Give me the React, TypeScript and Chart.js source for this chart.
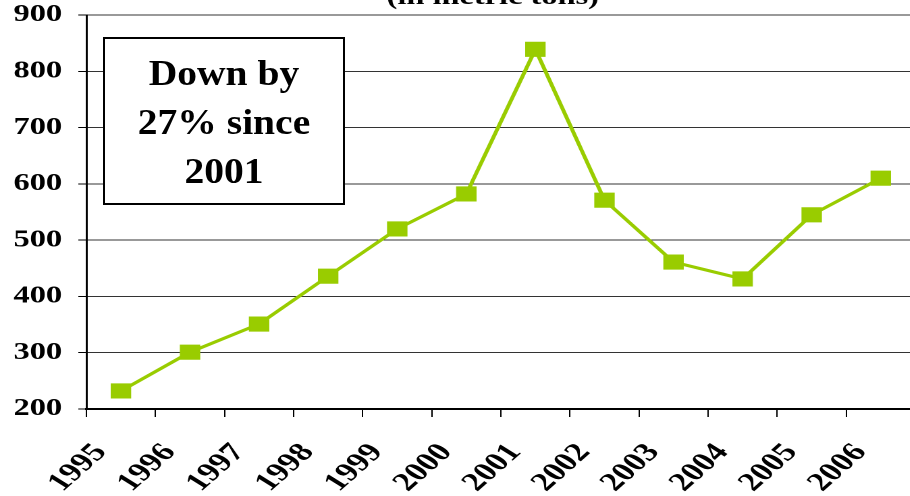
import React, { useEffect, useRef } from 'react';
import { Chart, registerables } from 'chart.js';

Chart.register(...registerables);

const years = ['1995', '1996', '1997', '1998', '1999', '2000', '2001', '2002', '2003', '2004', '2005', '2006'];
const tons = [232, 301, 351, 436, 520, 582, 839, 571, 461, 431, 545, 610];
const yTicks = [200, 300, 400, 500, 600, 700, 800, 900];
const titleText = '(in metric tons)';
const noteLines = ['Down by', '27% since', '2001'];

const SX = 1.35; // horizontal stretch of the reference picture
const INNER_W = 689;
const H = 496;
const FONT = '"Liberation Serif", "Times New Roman", serif';

export default function App() {
  const ref = useRef<HTMLCanvasElement | null>(null);

  useEffect(() => {
    if (!ref.current) return;
    const titlePlugin = {
      id: 'cutTitle',
      afterDraw(chart: any) {
        const ctx = chart.ctx;
        ctx.save();
        ctx.font = `bold 24px ${FONT}`;
        ctx.fillStyle = '#000';
        ctx.textAlign = 'center';
        ctx.textBaseline = 'alphabetic';
        ctx.fillText(titleText, 365, 4);
        ctx.restore();
      },
    };
    const chart = new Chart(ref.current, {
      type: 'line',
      data: {
        labels: years,
        datasets: [
          {
            data: tons,
            borderColor: '#99cc00',
            backgroundColor: '#99cc00',
            borderWidth: 3,
            tension: 0,
            pointStyle: 'rect',
            pointRadius: 10,
            pointBorderWidth: 1,
            pointBorderColor: '#99cc00',
            pointBackgroundColor: '#99cc00',
            clip: false as any,
          },
        ],
      },
      options: {
        animation: false,
        responsive: false,
        devicePixelRatio: 2,
        layout: { padding: { top: 15, left: 0, right: 1, bottom: 0 } },
        plugins: {
          legend: { display: false },
          tooltip: { enabled: false },
          title: { display: false },
        },
        scales: {
          x: {
            type: 'category',
            offset: true,
            grid: {
              display: true,
              drawOnChartArea: false,
              drawTicks: true,
              tickLength: 8,
              offset: true,
              color: '#000',
              lineWidth: 1,
            },
            border: { display: true, color: '#000', width: 2 },
            ticks: {
              autoSkip: false,
              minRotation: 50,
              maxRotation: 50,
              padding: 21,
              labelOffset: -15,
              color: '#000',
              font: { family: FONT, size: 26, weight: 'bold' },
            },
            afterFit: (s: any) => {
              s.height = 87;
              s.paddingLeft = 0;
              s.paddingRight = 0;
            },
          },
          y: {
            min: 200,
            max: 900,
            afterBuildTicks: (s: any) => {
              s.ticks = yTicks.map((v) => ({ value: v }));
            },
            grid: {
              color: '#333',
              tickColor: '#000',
              lineWidth: 1,
              drawTicks: true,
              tickLength: 6,
            },
            border: { display: true, color: '#000', width: 1.5 },
            ticks: {
              padding: 12,
              color: '#000',
              font: { family: FONT, size: 24, weight: 'bold' },
            },
            afterFit: (s: any) => {
              s.width = 64;
              s.paddingTop = 0;
              s.paddingBottom = 0;
            },
          },
        },
      },
      plugins: [titlePlugin],
    } as any);
    return () => chart.destroy();
  }, []);

  return (
    <div
      style={{
        position: 'fixed',
        left: 0,
        top: 0,
        width: 910,
        height: 496,
        overflow: 'hidden',
        background: '#fff',
      }}
    >
      <div
        style={{
          position: 'absolute',
          left: 0,
          top: 0,
          width: INNER_W,
          height: H,
          transform: `scaleX(${SX})`,
          transformOrigin: '0 0',
        }}
      >
        <canvas ref={ref} width={INNER_W} height={H} style={{ width: INNER_W, height: H, display: 'block' }} />
      </div>
      <div
        style={{
          position: 'absolute',
          left: 103,
          top: 37,
          width: 242,
          height: 168,
          border: '2px solid #000',
          background: '#fff',
          boxSizing: 'border-box',
        }}
      >
        <div
          style={{
            position: 'absolute',
            left: 0,
            right: 0,
            top: 10,
            textAlign: 'center',
            fontFamily: FONT,
            fontWeight: 'bold',
            fontSize: 35,
            lineHeight: '49px',
            color: '#000',
            transform: 'scaleX(1.13)',
            transformOrigin: '50% 0',
            whiteSpace: 'nowrap',
          }}
        >
          {noteLines.map((l) => (
            <div key={l}>{l}</div>
          ))}
        </div>
      </div>
    </div>
  );
}
